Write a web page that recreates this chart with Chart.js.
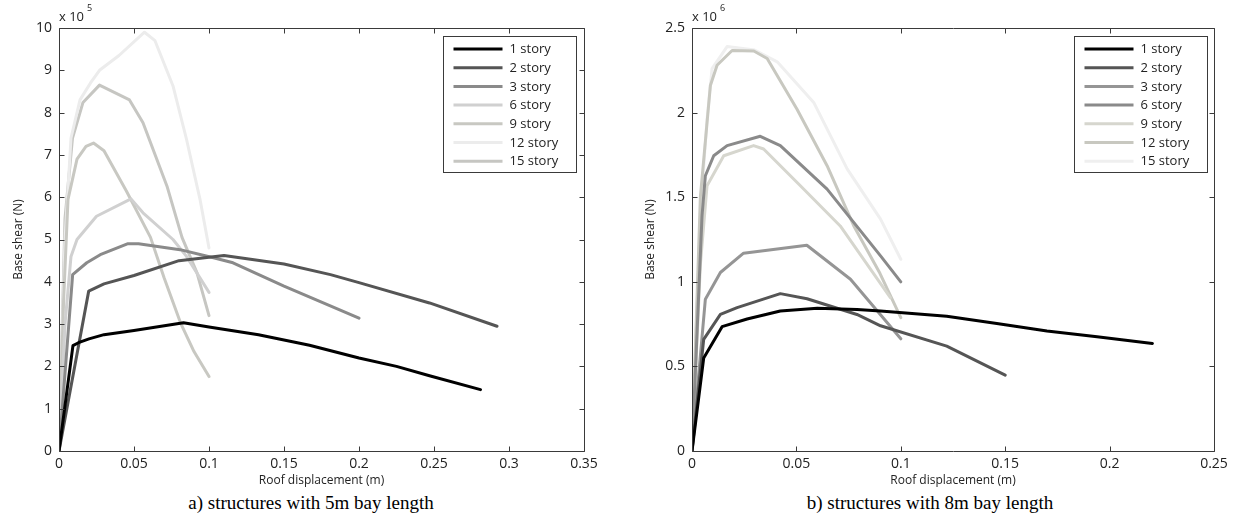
<!DOCTYPE html>
<html>
<head>
<meta charset="utf-8">
<script src="https://cdn.jsdelivr.net/npm/chart.js@4.4.1/dist/chart.umd.min.js"></script>
<style>
html, body { margin: 0; padding: 0; background: #fff; width: 1235px; height: 529px; overflow: hidden; }
canvas { position: absolute; top: 0; }
#c1 { left: 0; }
#c2 { left: 620px; }
.cap { position: absolute; top: 492px; font: 19px "Liberation Serif", "Times New Roman", serif; color: #000; text-align: center; white-space: nowrap; }
</style>
</head>
<body>
<canvas id="c1" width="620" height="490"></canvas>
<canvas id="c2" width="615" height="490"></canvas>
<div class="cap" style="left:0;width:622px">a) structures with 5m bay length</div>
<div class="cap" style="left:624px;width:612px">b) structures with 8m bay length</div>
<script>
(() => {
const storyLabels = ['1 story', '2 story', '3 story', '6 story', '9 story', '12 story', '15 story'];

// a) 5m bay length, base shear in x10^5 N
const a1x = [0, 0.0093, 0.013, 0.02, 0.03, 0.05, 0.083, 0.1, 0.133, 0.167, 0.2, 0.225, 0.247, 0.281];
const a1y = [0, 2.49, 2.56, 2.65, 2.75, 2.85, 3.03, 2.93, 2.75, 2.5, 2.2, 2.0, 1.78, 1.45];
const a2x = [0, 0.0198, 0.03, 0.05, 0.08, 0.1, 0.11, 0.15, 0.181, 0.2, 0.247, 0.292];
const a2y = [0, 3.78, 3.95, 4.15, 4.5, 4.58, 4.62, 4.42, 4.17, 3.98, 3.5, 2.95];
const a3x = [0, 0.0091, 0.0185, 0.0275, 0.046, 0.053, 0.0807, 0.103, 0.116, 0.15, 0.2];
const a3y = [0, 4.17, 4.45, 4.64, 4.9, 4.9, 4.76, 4.57, 4.45, 3.9, 3.14];
const a6x = [0, 0.004, 0.008, 0.012, 0.025, 0.048, 0.056, 0.076, 0.085, 0.1];
const a6y = [0, 3.0, 4.6, 5.0, 5.55, 5.96, 5.63, 5.0, 4.6, 3.75];
const a9x = [0, 0.003, 0.006, 0.012, 0.018, 0.023, 0.03, 0.045, 0.061, 0.07, 0.081, 0.09, 0.1];
const a9y = [0, 3.5, 5.95, 6.9, 7.2, 7.28, 7.1, 6.14, 5.05, 4.1, 3.03, 2.35, 1.76];
const a12x = [0, 0.004, 0.008, 0.014, 0.021, 0.027, 0.04, 0.057, 0.064, 0.076, 0.085, 0.094, 0.1];
const a12y = [0, 5.0, 7.4, 8.3, 8.7, 9.0, 9.35, 9.9, 9.7, 8.63, 7.37, 5.95, 4.8];
const a15x = [0, 0.004, 0.009, 0.016, 0.027, 0.047, 0.056, 0.072, 0.082, 0.092, 0.1];
const a15y = [0, 5.5, 7.4, 8.24, 8.65, 8.3, 7.76, 6.26, 5.05, 4.21, 3.2];

// b) 8m bay length, base shear in x10^6 N
const b1x = [0, 0.0056, 0.0144, 0.0264, 0.0423, 0.06, 0.079, 0.0903, 0.122, 0.146, 0.17, 0.194, 0.2205];
const b1y = [0, 0.55, 0.735, 0.78, 0.827, 0.843, 0.837, 0.827, 0.797, 0.754, 0.709, 0.675, 0.636];
const b2x = [0, 0.0056, 0.0136, 0.0216, 0.0423, 0.0551, 0.079, 0.0903, 0.122, 0.15];
const b2y = [0, 0.66, 0.807, 0.847, 0.93, 0.9, 0.807, 0.74, 0.62, 0.448];
const b3x = [0, 0.0064, 0.0136, 0.0247, 0.055, 0.0759, 0.1];
const b3y = [0, 0.897, 1.055, 1.169, 1.216, 1.015, 0.663];
const b6x = [0, 0.0048, 0.0064, 0.0104, 0.0168, 0.0327, 0.0423, 0.0647, 0.0903, 0.1];
const b6y = [0, 1.39, 1.627, 1.745, 1.805, 1.86, 1.805, 1.548, 1.153, 1.0];
const b9x = [0, 0.004, 0.0072, 0.0152, 0.0295, 0.0343, 0.0519, 0.071, 0.095];
const b9y = [0, 1.1, 1.568, 1.745, 1.805, 1.785, 1.568, 1.33, 0.906];
const b12x = [0, 0.004, 0.0088, 0.012, 0.0192, 0.0296, 0.036, 0.0503, 0.0647, 0.0775, 0.09, 0.1];
const b12y = [0, 1.5, 2.16, 2.28, 2.367, 2.364, 2.32, 2.02, 1.686, 1.33, 1.05, 0.788];
const b15x = [0, 0.004, 0.0072, 0.0096, 0.0168, 0.03, 0.0408, 0.0583, 0.0743, 0.0903, 0.1];
const b15y = [0, 1.4, 1.96, 2.26, 2.39, 2.37, 2.30, 2.06, 1.667, 1.37, 1.133];

// tick values and labels
const aTicksX = [0, 0.05, 0.1, 0.15, 0.2, 0.25, 0.3, 0.35];
const aLabelsX = ['0', '0.05', '0.1', '0.15', '0.2', '0.25', '0.3', '0.35'];
const aTicksY = [0, 1, 2, 3, 4, 5, 6, 7, 8, 9, 10];
const aLabelsY = ['0', '1', '2', '3', '4', '5', '6', '7', '8', '9', '10'];
const bTicksX = [0, 0.05, 0.1, 0.15, 0.2, 0.25];
const bLabelsX = ['0', '0.05', '0.1', '0.15', '0.2', '0.25'];
const bTicksY = [0, 0.5, 1, 1.5, 2, 2.5];
const bLabelsY = ['0', '0.5', '1', '1.5', '2', '2.5'];

const aColors = ['#000000', '#555555', '#8a8a8a', '#d0d0d0', '#c8c8c2', '#ececec', '#c6c6c2'];
const bColors = ['#000000', '#555555', '#959595', '#8a8a8a', '#d6d6ce', '#c8c8c0', '#efefef'];

const FONT = '"Open Sans", "DejaVu Sans", sans-serif';
const pts = (xs, ys) => xs.map((x, i) => ({ x: x, y: ys[i] }));

// MATLAB-ish box with inward ticks, exponent label and legend box
const matlabBox = {
    id: 'matlabBox',
    afterDatasetsDraw(chart, args, opts) {
        const { ctx, chartArea: a, scales } = chart;
        const L = Math.round(a.left) + 0.5, R = Math.round(a.right) + 0.5;
        const T = Math.round(a.top) + 0.5, B = Math.round(a.bottom) + 0.5;
        ctx.save();
        ctx.strokeStyle = '#3a3a3a';
        ctx.lineWidth = 1;
        ctx.beginPath();
        ctx.rect(L, T, R - L, B - T);
        scales.x.ticks.forEach(t => {
            const p = Math.round(scales.x.getPixelForValue(t.value)) + 0.5;
            ctx.moveTo(p, B); ctx.lineTo(p, B - 5);
            ctx.moveTo(p, T); ctx.lineTo(p, T + 5);
        });
        scales.y.ticks.forEach(t => {
            const p = Math.round(scales.y.getPixelForValue(t.value)) + 0.5;
            ctx.moveTo(L, p); ctx.lineTo(L + 5, p);
            ctx.moveTo(R, p); ctx.lineTo(R - 5, p);
        });
        ctx.stroke();

        // exponent
        ctx.fillStyle = '#222';
        ctx.textBaseline = 'alphabetic';
        ctx.font = '13px ' + FONT;
        ctx.fillText('x 10', a.left, 21);
        const w = ctx.measureText('x 10').width;
        ctx.font = '9px ' + FONT;
        ctx.fillText(opts.exp, a.left + w + 3, 11);

        // legend
        const bw = 133, bh = 136;
        const bx = Math.round(a.right - opts.legRight - bw) + 0.5;
        const by = Math.round(a.top + 8) + 0.5;
        ctx.fillStyle = '#fff';
        ctx.fillRect(bx, by, bw, bh);
        ctx.strokeStyle = '#3a3a3a';
        ctx.strokeRect(bx, by, bw, bh);
        ctx.font = '13px ' + FONT;
        ctx.textBaseline = 'middle';
        chart.data.datasets.forEach((ds, i) => {
            const y = by + 12.5 + i * 18.7;
            ctx.strokeStyle = ds.borderColor;
            ctx.lineWidth = 3;
            ctx.beginPath();
            ctx.moveTo(bx + 10, y); ctx.lineTo(bx + 59, y);
            ctx.stroke();
            ctx.fillStyle = '#222';
            ctx.fillText(ds.label, bx + 66, y + 0.5);
        });
        ctx.restore();
    }
};

function makeChart(id, series, colors, tx, lx, ty, ly, o) {
    return new Chart(document.getElementById(id), {
        type: 'scatter',
        data: {
            datasets: series.map((s, i) => ({
                label: storyLabels[i],
                data: pts(s[0], s[1]),
                showLine: true,
                borderColor: colors[i],
                backgroundColor: colors[i],
                borderWidth: 3,
                pointRadius: 0,
                borderJoinStyle: 'round',
                borderCapStyle: 'round',
                tension: 0
            }))
        },
        options: {
            responsive: false,
            devicePixelRatio: 1,
            animation: false,
            events: [],
            layout: { padding: { left: 0, right: o.padRight, top: 28, bottom: 1 } },
            plugins: {
                legend: { display: false },
                tooltip: { enabled: false },
                matlabBox: { exp: o.exp, legRight: o.legRight }
            },
            scales: {
                x: {
                    type: 'linear',
                    min: tx[0], max: tx[tx.length - 1],
                    afterBuildTicks: s => { s.ticks = tx.map(v => ({ value: v })); },
                    afterFit: s => { s.height = 38; },
                    grid: { display: false, drawTicks: false },
                    border: { display: false },
                    ticks: {
                        padding: 5, color: '#222', maxRotation: 0, autoSkip: false,
                        font: { family: FONT, size: 14 },
                        callback: (v, i) => lx[i]
                    },
                    title: {
                        display: true, text: 'Roof displacement (m)', color: '#222',
                        font: { family: FONT, size: 12 }, padding: { top: 0, bottom: 1 }
                    }
                },
                y: {
                    type: 'linear',
                    min: ty[0], max: ty[ty.length - 1],
                    afterBuildTicks: s => { s.ticks = ty.map(v => ({ value: v })); },
                    afterFit: s => { s.width = o.yWidth; },
                    grid: { display: false, drawTicks: false },
                    border: { display: false },
                    ticks: {
                        padding: 7, color: '#222', autoSkip: false,
                        font: { family: FONT, size: 14 },
                        callback: (v, i) => ly[i]
                    },
                    title: {
                        display: true, text: 'Base shear (N)', color: '#222',
                        font: { family: FONT, size: 12 }, padding: { top: o.titlePad, bottom: 0 }
                    }
                }
            }
        },
        plugins: [matlabBox]
    });
}

makeChart('c1',
    [[a1x, a1y], [a2x, a2y], [a3x, a3y], [a6x, a6y], [a9x, a9y], [a12x, a12y], [a15x, a15y]],
    aColors, aTicksX, aLabelsX, aTicksY, aLabelsY,
    { padRight: 36, yWidth: 59, titlePad: 11, exp: '5', legRight: 8 });

makeChart('c2',
    [[b1x, b1y], [b2x, b2y], [b3x, b3y], [b6x, b6y], [b9x, b9y], [b12x, b12y], [b15x, b15y]],
    bColors, bTicksX, bLabelsX, bTicksY, bLabelsY,
    { padRight: 21, yWidth: 72, titlePad: 23, exp: '6', legRight: 7 });
})();
</script>
</body>
</html>
